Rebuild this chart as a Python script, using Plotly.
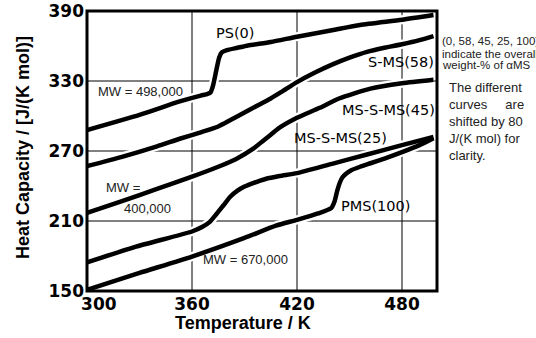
import plotly.graph_objects as go

# ---------------- data ----------------
temp_ps = [300, 330, 353, 365, 368, 370.5, 372, 374, 375.5, 377, 380, 386, 392, 405, 420, 440, 456, 480, 498]
cp_ps = [288, 301, 312.5, 317.5, 318.5, 320, 326, 340, 350, 354.5, 356.5, 358.5, 360.5, 363.5, 368, 373.5, 378, 382.5, 386.5]

temp_sms = [300, 320, 340, 353, 365, 375, 382, 390, 398, 405, 412, 420, 430, 440, 450, 460, 470, 480, 490, 498]
cp_sms = [257, 265, 274, 280.5, 286, 291, 296.5, 303, 309.5, 315, 321.5, 329, 337, 344, 350, 355, 358.5, 361.5, 365, 368.5]

temp_mssms45 = [300, 320, 340, 360, 375, 385, 395, 400, 405, 410, 420, 433, 444, 462, 480, 498]
cp_mssms45 = [217, 227, 237.5, 248, 256.5, 263, 272, 278, 284, 290, 298.5, 307, 315, 323.5, 328, 331]

temp_mssms25 = [300, 328, 360, 366, 370, 374, 378, 382, 386, 390, 395, 402, 410, 420, 440, 460, 480, 498]
cp_mssms25 = [174.5, 188, 201, 205, 209, 216, 223.5, 231, 236, 239.5, 242.5, 246, 248.5, 251, 259, 267, 275, 282]

temp_pms = [300, 330, 360, 390, 408, 420, 432, 439.5, 441.5, 443, 444.5, 446, 448, 451, 456, 462, 470, 480, 490, 498]
cp_pms = [151, 165.5, 179.5, 195.5, 206, 211, 216.5, 221, 227, 236, 243, 247.5, 250.5, 253.5, 256.5, 259.5, 263.5, 269, 275, 281]

series_names = ["PS(0)", "S-MS(58)", "MS-S-MS(45)", "MS-S-MS(25)", "PMS(100)"]
series_temps = [temp_ps, temp_sms, temp_mssms45, temp_mssms25, temp_pms]
series_cps = [cp_ps, cp_sms, cp_mssms45, cp_mssms25, cp_pms]

# label positions (data coords) for the curve names
label_temps = [384.8, 479.4, 472.2, 445, 465]
label_cps = [371, 346, 305, 281, 223]

x_ticks = [300, 360, 420, 480]
y_ticks = [150, 210, 270, 330, 390]
x_range = [300, 500]
y_range = [150, 390]

mw_texts = ["MW = 498,000", "MW =", "400,000", "MW = 670,000"]
mw_temps = [330.7, 320.3, 334.7, 390.8]
mw_cps = [320.8, 238.3, 221, 176.6]

note_lines = ["(0, 58, 45, 25, 100)", "indicate the overall", "weight-% of \u03b1MS"]
side_text = ["The different", "curves\u00a0\u00a0\u00a0\u00a0 are", "shifted by 80", "J/(K mol) for", "clarity."]

# ---------------- layout geometry ----------------
W, H = 536, 338
PL, PR, PT, PB = 87, 437, 11, 291


def pxx(xp):
    return (xp - PL) / (PR - PL)


def pxy(yp):
    return (PB - yp) / (PB - PT)


fig = go.Figure()

# white halos first (break the grid lines around the curves)
for t, c in zip(series_temps, series_cps):
    fig.add_trace(go.Scatter(x=t, y=c, mode="lines",
                             line=dict(color="white", width=9, shape="spline", smoothing=0.6),
                             hoverinfo="skip", showlegend=False))
for name, t, c in zip(series_names, series_temps, series_cps):
    fig.add_trace(go.Scatter(x=t, y=c, mode="lines", name=name,
                             line=dict(color="black", width=4.5, shape="spline", smoothing=0.6),
                             showlegend=False))

# grid lines (below traces) and the frame (above)
shapes = []
for v in x_ticks[1:]:
    shapes.append(dict(type="line", xref="x", yref="paper", x0=v, x1=v, y0=0, y1=1,
                       line=dict(color="black", width=1), layer="below"))
for v in y_ticks[1:-1]:
    shapes.append(dict(type="line", xref="paper", yref="y", x0=0, x1=1, y0=v, y1=v,
                       line=dict(color="black", width=1), layer="below"))
shapes.append(dict(type="rect", xref="paper", yref="paper", x0=0, x1=1, y0=0, y1=1,
                   line=dict(color="black", width=3), layer="above"))

annotations = []
for name, lt, lc in zip(series_names, label_temps, label_cps):
    annotations.append(dict(x=lt, y=lc, xref="x", yref="y", text=name, showarrow=False,
                            font=dict(family="DejaVu Sans", size=14.5, color="black")))
for txt, lt, lc in zip(mw_texts, mw_temps, mw_cps):
    annotations.append(dict(x=lt, y=lc, xref="x", yref="y", text=txt, showarrow=False,
                            font=dict(family="Liberation Sans", size=13, color="#222")))

note_y = [41, 53.5, 65]
for txt, yy in zip(note_lines, note_y):
    annotations.append(dict(x=pxx(440), y=pxy(yy), xref="paper", yref="paper", text=txt,
                            showarrow=False, xanchor="left", yanchor="middle",
                            font=dict(family="Liberation Sans", size=11.5, color="#222")))

annotations.append(dict(x=pxx(447), y=pxy(78), xref="paper", yref="paper",
                        text="<br>".join(side_text), showarrow=False, xanchor="left",
                        yanchor="top", align="left",
                        font=dict(family="Liberation Sans", size=13, color="#222")))

# axis titles
annotations.append(dict(x=pxx(243), y=pxy(323), xref="paper", yref="paper",
                        xanchor="center", yanchor="middle",
                        text="Temperature / K", showarrow=False,
                        font=dict(family="Liberation Sans", size=18, color="black", weight="bold")))
annotations.append(dict(x=pxx(23), y=pxy(148), xref="paper", yref="paper",
                        xanchor="center", yanchor="middle",
                        text="Heat Capacity / [J/(K mol)]", showarrow=False, textangle=-90,
                        font=dict(family="Liberation Sans", size=18, color="black", weight="bold")))

x_ticktext = [("\u00a0\u00a0\u00a0\u00a0" + str(v)) if i == 0 else str(v) for i, v in enumerate(x_ticks)]

fig.update_layout(
    width=W, height=H,
    margin=dict(l=PL, r=W - PR, t=PT, b=H - PB, pad=0, autoexpand=False),
    paper_bgcolor="white", plot_bgcolor="white",
    showlegend=False,
    annotations=annotations,
    shapes=shapes,
    xaxis=dict(range=x_range, tickvals=x_ticks, ticktext=x_ticktext,
               showgrid=False, showline=False,
               zeroline=False, ticks="", automargin=False, ticklabelstandoff=1,
               tickfont=dict(family="DejaVu Sans", size=17, color="black", weight="bold")),
    yaxis=dict(range=y_range, tickvals=y_ticks, ticktext=[str(v) for v in y_ticks],
               showgrid=False, showline=False,
               zeroline=False, ticks="", automargin=False, ticklabelstandoff=2,
               tickfont=dict(family="DejaVu Sans", size=17, color="black", weight="bold")),
)

fig.write_html("out.html")
